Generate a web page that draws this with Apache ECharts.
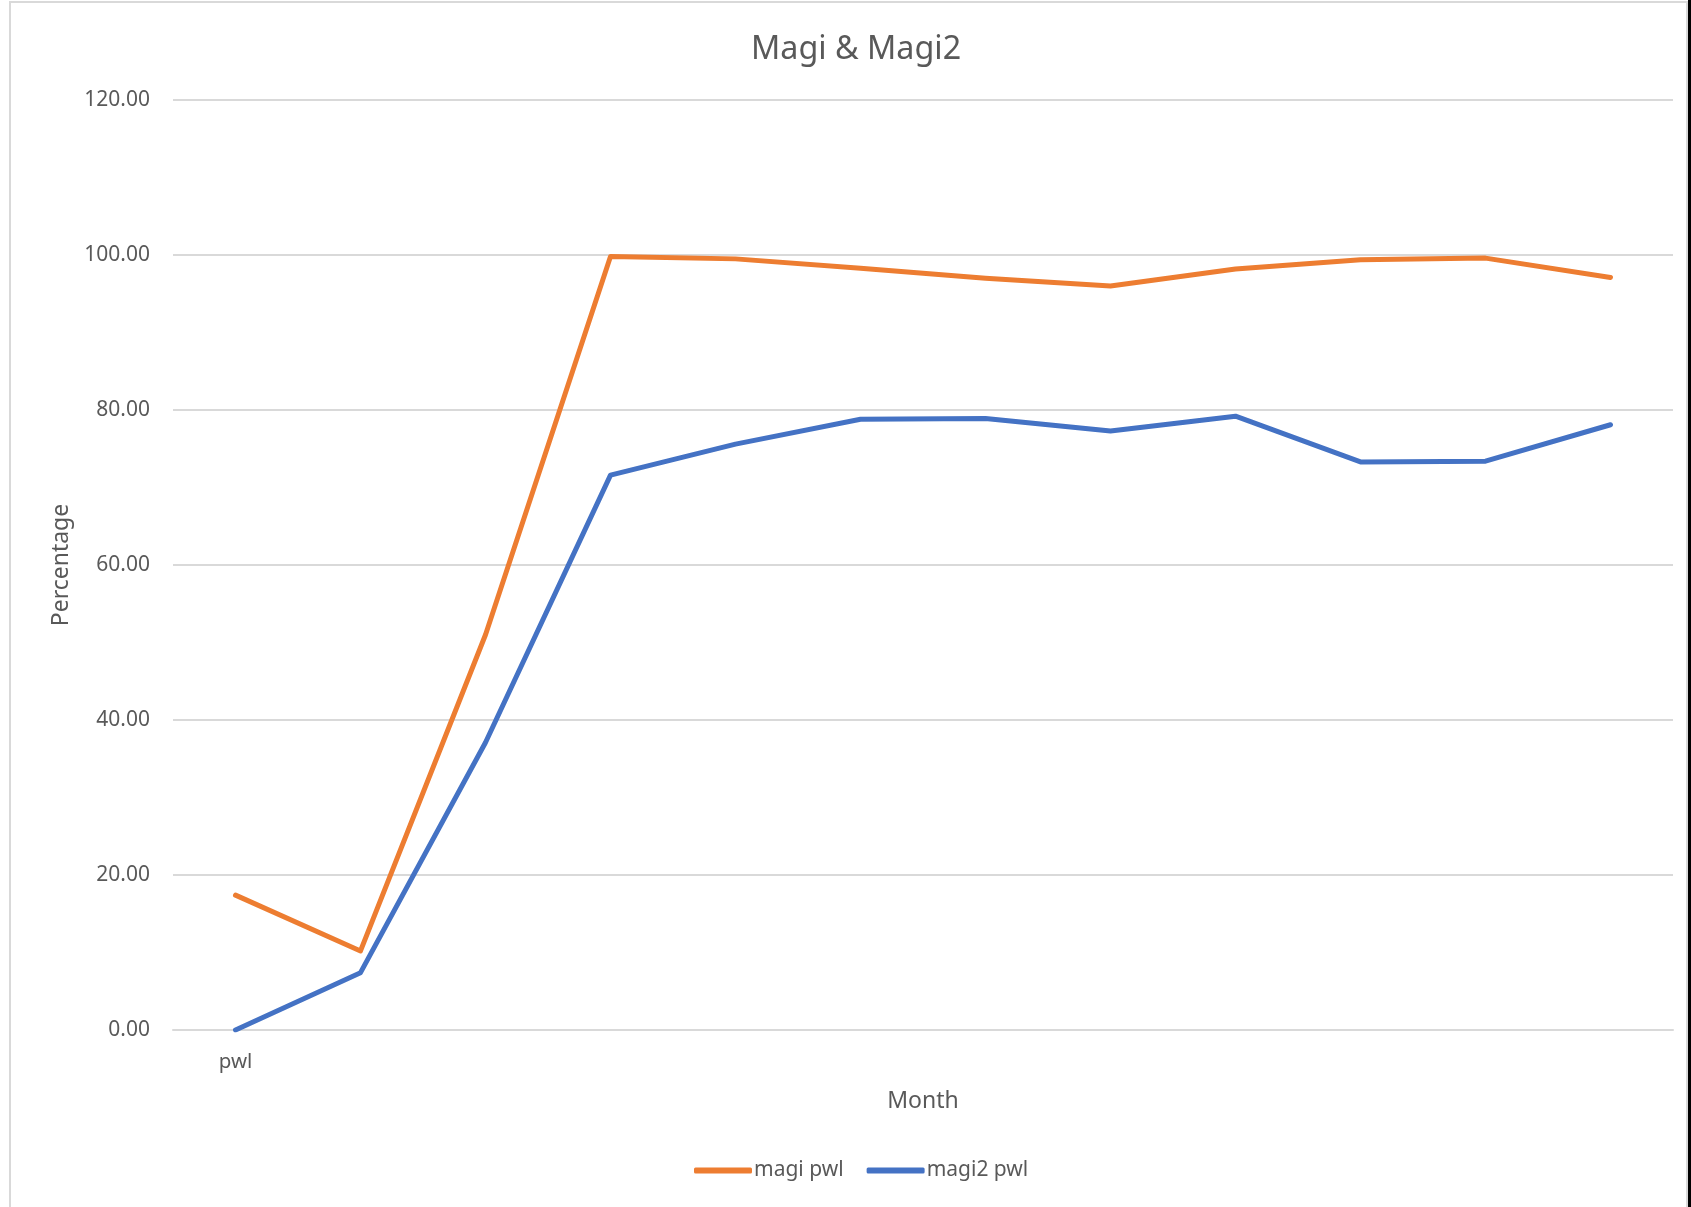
<!DOCTYPE html>
<html>
<head>
<meta charset="utf-8">
<title>Magi &amp; Magi2</title>
<script src="https://cdn.jsdelivr.net/npm/echarts@6/dist/echarts.min.js"></script>
<style>
  html, body { margin: 0; padding: 0; background: #fff; }
  #chart { width: 1691px; height: 1207px; }
</style>
</head>
<body>
<div id="chart"></div>
<script>
// Month categories (only the first one carries a label)
const categories = ['pwl', '', '', '', '', '', '', '', '', '', '', ''];

// Percentage values per month
const magiPwl  = [17.4, 10.2, 51.0, 99.8, 99.5, 98.3, 97.0, 96.0, 98.2, 99.4, 99.6, 97.1];
const magi2Pwl = [0.0, 7.4, 37.1, 71.6, 75.6, 78.8, 78.9, 77.3, 79.2, 73.3, 73.4, 78.1];

// Y axis range and step
const yMin = 0;
const yMax = 120;
const yStep = 20;

const FONT = '"Noto Sans", "Open Sans", sans-serif';
const TEXT = '#595959';
const GRID_LINE = '#D9D9D9';

const chart = echarts.init(document.getElementById('chart'), null, { renderer: 'canvas' });

chart.setOption({
  backgroundColor: '#ffffff',
  animation: false,
  textStyle: { fontFamily: FONT, color: TEXT },
  title: {
    text: 'Magi & Magi2',
    left: 746,
    top: 28,
    textStyle: { fontFamily: FONT, fontSize: 32.3, fontWeight: 'normal', color: TEXT, lineHeight: 34 }
  },
  legend: {
    left: 689,
    top: 1155,
    itemWidth: 58,
    itemHeight: 6,
    itemGap: 23,
    icon: 'roundRect',
    textStyle: { fontFamily: FONT, fontSize: 21, color: TEXT, lineHeight: 21, padding: [0, 0, 0, -3] },
    data: ['magi pwl', 'magi2 pwl']
  },
  grid: { left: 173, right: 18, top: 100, bottom: 177, containLabel: false },
  xAxis: {
    type: 'category',
    data: categories,
    boundaryGap: true,
    name: 'Month',
    nameLocation: 'middle',
    nameGap: 60,
    nameTextStyle: { fontFamily: FONT, fontSize: 23, color: TEXT, lineHeight: 23 },
    axisLine: { show: true, lineStyle: { color: GRID_LINE, width: 2 } },
    axisTick: { show: false },
    axisLabel: { interval: 0, margin: 22, fontFamily: FONT, fontSize: 20.5, color: TEXT, lineHeight: 21 },
    splitLine: { show: false }
  },
  yAxis: {
    type: 'value',
    min: yMin,
    max: yMax,
    interval: yStep,
    name: 'Percentage',
    nameLocation: 'middle',
    nameRotate: 90,
    nameGap: 100,
    nameTextStyle: { fontFamily: FONT, fontSize: 23, color: TEXT, lineHeight: 23 },
    axisLine: { show: false },
    axisTick: { show: false },
    axisLabel: {
      margin: 23,
      fontFamily: FONT,
      fontSize: 21,
      color: TEXT,
      formatter: v => v.toFixed(2)
    },
    splitLine: { show: true, lineStyle: { color: GRID_LINE, width: 2 } }
  },
  series: [
    {
      name: 'magi pwl',
      type: 'line',
      data: magiPwl,
      symbol: 'none',
      smooth: false,
      color: '#ED7D31',
      lineStyle: { color: '#ED7D31', width: 5, cap: 'round', join: 'round' },
      itemStyle: { color: '#ED7D31' },
      z: 3
    },
    {
      name: 'magi2 pwl',
      type: 'line',
      data: magi2Pwl,
      symbol: 'none',
      smooth: false,
      color: '#4472C4',
      lineStyle: { color: '#4472C4', width: 5, cap: 'round', join: 'round' },
      itemStyle: { color: '#4472C4' },
      z: 4
    }
  ],
  graphic: [
    {
      type: 'rect',
      silent: true,
      z: -10,
      shape: { x: 10, y: 2, width: 1677, height: 1220 },
      style: { fill: 'none', stroke: '#D9D9D9', lineWidth: 2 }
    },
    {
      type: 'rect',
      silent: true,
      z: 10,
      shape: { x: 1688, y: 0, width: 3, height: 1207 },
      style: { fill: '#000000' }
    }
  ]
});
</script>
</body>
</html>
